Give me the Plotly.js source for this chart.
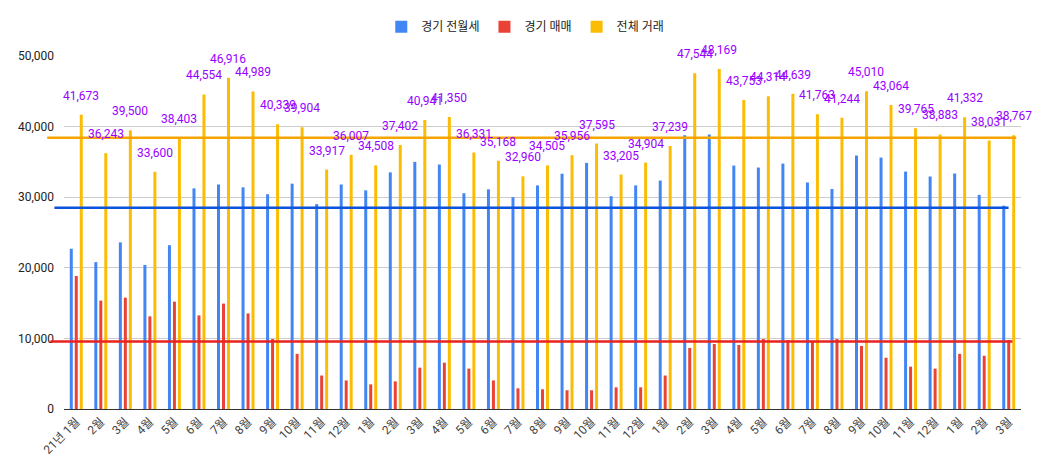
<!DOCTYPE html>
<html>
<head>
<meta charset="utf-8">
<script src="https://cdn.plot.ly/plotly-3.0.1.min.js"></script>
<style>
html,body{margin:0;padding:0;background:#fff;}
#chart{width:1038px;height:457px;}
</style>
</head>
<body>
<div id="chart"></div>
<script>
var tickLabels = ['21년 1월','2월','3월','4월','5월','6월','7월','8월','9월','10월','11월','12월',
  '1월','2월','3월','4월','5월','6월','7월','8월','9월','10월','11월','12월',
  '1월','2월','3월','4월','5월','6월','7월','8월','9월','10월','11월','12월',
  '1월','2월','3월'];

var rentValues = [22700,20800,23600,20400,23200,31250,31800,31400,30420,31920,29020,31800,
  30970,33520,35000,34630,30560,31110,30000,31670,33330,34860,30140,31670,
  32360,38770,38870,34480,34200,34760,32080,31170,35900,35610,33630,32930,
  33350,30330,28800];

var saleValues = [18840,15350,15770,13120,15210,13260,14930,13540,9910,7810,4740,4050,
  3490,3910,5860,6560,5720,4050,2930,2790,2650,2650,3070,3070,
  4740,8650,9210,9070,9910,9770,9650,9910,8930,7260,6000,5720,
  7810,7540,9770];

var totalValues = [41673,36243,39500,33600,38403,44554,46916,44989,40339,39904,33917,36007,
  34508,37402,40941,41350,36331,35168,32960,34505,35956,37595,33205,34904,
  37239,47544,48169,43753,44314,44639,41763,41244,45010,43064,39765,38883,
  41332,38031,38767];

var refRent = 28500;
var refSale = 9570;
var refTotal = 38430;

var seriesNames = ['경기 전월세','경기 매매','전체 거래'];

var xIdx = tickLabels.map(function(_, i){ return i; });
var FONT = 'Roboto, "Noto Sans CJK KR", sans-serif';
var bargap = 0.39;
var slot = (1 - bargap) / 3;

var traces = [
  {type:'bar', name:seriesNames[0], x:xIdx, y:rentValues, marker:{color:'#4285f4'}, hoverinfo:'y'},
  {type:'bar', name:seriesNames[1], x:xIdx, y:saleValues, marker:{color:'#ea4335'}, hoverinfo:'y'},
  {type:'bar', name:seriesNames[2], x:xIdx, y:totalValues, marker:{color:'#fbbc04'}, hoverinfo:'y'}
];

var annotations = totalValues.map(function(v, i){
  return {
    x: i + slot, y: v, xref:'x', yref:'y',
    text: v.toLocaleString('en-US'),
    showarrow:false, yanchor:'middle', xanchor:'center', yshift:19,
    font:{family:FONT, size:12, color:'#9900ff'}
  };
});

function hline(val, color, x0, x1){
  return {type:'line', xref:'paper', yref:'y', x0:x0, x1:x1, y0:val, y1:val,
    line:{color:color, width:2.5}, layer:'above'};
}

var layout = {
  width:1038, height:457,
  margin:{l:64, r:17, t:52, b:48},
  paper_bgcolor:'#fff', plot_bgcolor:'#fff',
  barmode:'group', bargap:bargap, bargroupgap:0.4,
  font:{family:FONT, size:12, color:'#222'},
  showlegend:true,
  legend:{orientation:'h', x:0.482, xanchor:'center', y:1.083, yanchor:'middle',
    font:{family:FONT, size:12, color:'#222'}, itemclick:false},
  xaxis:{
    range:[-0.5, 38.5], tickmode:'array', tickvals:xIdx, ticktext:tickLabels,
    tickangle:-45, showgrid:false, zeroline:false, showline:true,
    linecolor:'#333', linewidth:1, ticks:'', automargin:false,
    tickfont:{family:FONT, size:12, color:'#444'}
  },
  yaxis:{
    range:[0, 50000], tickvals:[0,10000,20000,30000,40000,50000], tickformat:',d',
    showgrid:true, gridcolor:'#cccccc', gridwidth:1, zeroline:false,
    showline:false, ticks:'', automargin:false, ticklabelstandoff:9,
    tickfont:{family:FONT, size:12, color:'#222'}
  },
  shapes:[
    hline(refTotal, '#f6a400', -0.0175, 0.995),
    hline(refRent, '#0b52dc', -0.010, 0.987),
    hline(refSale, '#e8221f', -0.0143, 0.991)
  ],
  annotations:annotations
};

Plotly.newPlot('chart', traces, layout, {displayModeBar:false, staticPlot:true});
</script>
</body>
</html>
